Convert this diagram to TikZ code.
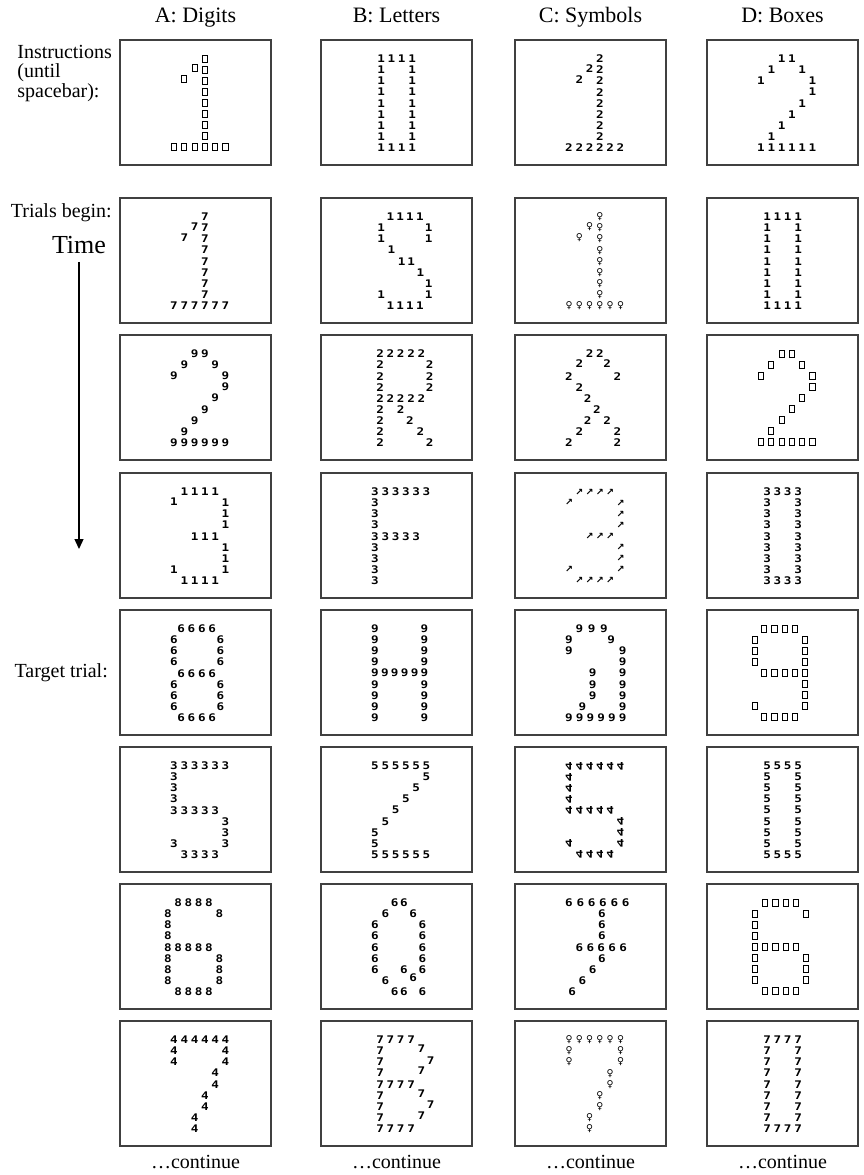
\documentclass[tikz,border=0pt]{standalone}
\usepackage{fontspec}
\usepackage{graphicx}
\setmainfont{Liberation Serif}
\newfontfamily\glyphfnt[FakeStretch=1.2]{DejaVu Sans Mono}
\newfontfamily\symfnt{DejaVu Sans}
\usetikzlibrary{arrows.meta}

\tikzset{
  panel/.style={draw=black!75, line width=1.1pt, minimum width=151pt, minimum height=125pt, inner sep=0pt, outer sep=0pt},
  gl/.style={inner sep=0pt, outer sep=0pt, font=\glyphfnt\bfseries\fontsize{10.5}{10.5}\selectfont},
  sq/.style={draw, line width=1pt, minimum width=5.2pt, minimum height=7pt, inner sep=0pt, outer sep=0pt},
  hdr/.style={font=\fontsize{22}{24}\selectfont, inner sep=0pt},
  lbl/.style={font=\fontsize{20}{19.5}\selectfont, align=left, inner sep=0pt},
  cont/.style={font=\fontsize{20}{22}\selectfont, inner sep=0pt},
  timearr/.style={line width=1.3pt, -{Triangle[length=10pt,width=9pt]}},
}

% big figures, col/row on the glyph grid
\newcommand\shpOne{3/0,2/0.85,3/1,1/1.85,3/2,3/3,3/4,3/5,3/6,3/7,0/8,1/8,2/8,3/8,4/8,5/8}
\newcommand\shpTwo{2/0,3/0,1/1,4/1,0/2,5/2,5/3,4/4,3/5,2/6,1/7,0/8,1/8,2/8,3/8,4/8,5/8}
\newcommand\shpThree{1/0,2/0,3/0,4/0,0/0.9,5/1,5/2,5/3,2/4,3/4,4/4,5/5,5/6,0/7,5/7,1/8,2/8,3/8,4/8}
\newcommand\shpFive{0/0,1/0,2/0,3/0,4/0,5/0,0/1,0/2,0/3,0/4,1/4,2/4,3/4,4/4,5/5,5/6,0/7,5/7,1/8,2/8,3/8,4/8}
\newcommand\shpSix{0.4/0,1.4/0,2.4/0,3.4/0,-0.6/1,4.4/1,-0.6/2,-0.6/3,-0.6/4,0.4/4,1.4/4,2.4/4,3.4/4,-0.6/5,4.4/5,-0.6/6,4.4/6,-0.6/7,4.4/7,0.4/8,1.4/8,2.4/8,3.4/8}
\newcommand\shpSeven{0/0,1/0,2/0,3/0,4/0,5/0,0/1,5/1,0/2,5/2,4/3,4/4,3/5,3/6,2/7,2/8}
\newcommand\shpEight{0.7/0,1.7/0,2.7/0,3.7/0,0/1,4.5/1,0/2,4.5/2,0/3,4.5/3,0.7/4,1.7/4,2.7/4,3.7/4,0/5,4.5/5,0/6,4.5/6,0/7,4.5/7,0.7/8,1.7/8,2.7/8,3.7/8}
\newcommand\shpNine{0.3/0,1.3/0,2.3/0,3.3/0,-0.6/1,4.25/1,-0.6/2,4.25/2,-0.6/3,4.25/3,0.3/4,1.3/4,2.3/4,3.3/4,4.25/4,4.25/5,4.25/6,-0.6/7,4.25/7,0.3/8,1.3/8,2.3/8,3.3/8}
\newcommand\shpZero{0.6/0,1.6/0,2.6/0,3.6/0,0.6/1,3.6/1,0.6/2,3.6/2,0.6/3,3.6/3,0.6/4,3.6/4,0.6/5,3.6/5,0.6/6,3.6/6,0.6/7,3.6/7,0.6/8,1.6/8,2.6/8,3.6/8}
\newcommand\shpS{1.5/0,2.45/0,3.4/0,4.35/0,0.6/1,5.2/1,0.6/2,5.2/2,1.6/3,2.6/4,3.5/4,4.4/5,5.2/6,0.6/7,5.2/7,1.5/8,2.45/8,3.4/8,4.35/8}
\newcommand\shpR{0.5/0,1.5/0,2.5/0,3.5/0,4.5/0,0.5/1,5.3/1,0.5/2,5.3/2,0.5/3,5.3/3,0.5/4,1.5/4,2.5/4,3.5/4,4.5/4,0.5/5,2.5/5,0.5/6,3.4/6,0.5/7,4.4/7,0.5/8,5.3/8}
\newcommand\shpF{0/0,1/0,2/0,3/0,4/0,5/0,0/1,0/2,0/3,0/4,1/4,2/4,3/4,4/4,0/5,0/6,0/7,0/8}
\newcommand\shpH{0/0,4.8/0,0/1,4.8/1,0/2,4.8/2,0/3,4.8/3,0/4,0.96/4,1.92/4,2.88/4,3.84/4,4.8/4,0/5,4.8/5,0/6,4.8/6,0/7,4.8/7,0/8,4.8/8}
\newcommand\shpZ{0/0,1/0,2/0,3/0,4/0,5/0,5/1,4/2,3/3,2/4,1/5,0/6,0/7,0/8,1/8,2/8,3/8,4/8,5/8}
\newcommand\shpQ{1.9/0,2.8/0,1/1,3.7/1,0/2,4.6/2,0/3,4.6/3,0/4,4.6/4,0/5,4.6/5,0/6,2.8/6,4.6/6,1/7,3.7/6.8,1.9/8,2.8/8,4.6/8}
\newcommand\shpB{0.5/0,1.5/0,2.5/0,3.5/0,0.5/1,4.5/0.8,0.5/2,5.4/1.85,0.5/3,4.5/2.8,0.5/4,1.5/4,2.5/4,3.5/4,0.5/5,4.5/4.85,0.5/6,5.4/5.85,0.5/7,4.5/6.85,0.5/8,1.5/8,2.5/8,3.5/8}
\newcommand\shpAnd{2/0,3/0,1/0.9,3.7/0.9,0/2,4.7/2,1/3,1.8/4,2.7/5,1.8/6,3.7/6,1/7,4.7/7,0/8,4.7/8}
\newcommand\shpA{1/0,2.2/0,3.4/0,0/1,4.1/1,0/2,5.2/2,5.2/3,2.3/4,5.2/4,2.3/5,5.2/5,2.3/6,5.2/6,1.3/7,5.2/7,0/8,1.04/8,2.08/8,3.12/8,4.16/8,5.2/8}
\newcommand\shpSevenBar{0/0,1.1/0,2.2/0,3.3/0,4.4/0,5.5/0,3.2/1,3.2/2,3.2/3,1/4,2.07/4,3.13/4,4.2/4,5.27/4,3.2/5,2.3/6,1.3/7,0.3/8}

% #1 panel, #2 style, #3 glyph, #4 positions
\newcommand\fig[4]{%
  \foreach \c/\r [count=\i] in #4 {
    \node[#2] (#1g\i) at ([xshift=54pt+(\c)*10.3pt, yshift=-19pt-(\r)*11.05pt]#1.north west) {#3};
  }}

\begin{document}
\begin{tikzpicture}[x=1pt,y=-1pt]
\useasboundingbox (0,0) rectangle (863,1175);

\foreach \col/\x in {A/195.5,B/396.5,C/590.5,D/782.5}
  \foreach \row/\y in {1/102.5,2/260.5,3/397.5,4/535.5,5/672.5,6/809.5,7/946.5,8/1083.5}
    \node[panel] (\col\row) at (\x,\y) {};

\node[hdr, anchor=base] (hA) at ([yshift=17pt]A1.north) {A: Digits};
\node[hdr, anchor=base] (hB) at ([yshift=17pt]B1.north) {B: Letters};
\node[hdr, anchor=base] (hC) at ([yshift=17pt]C1.north) {C: Symbols};
\node[hdr, anchor=base] (hD) at ([yshift=17pt]D1.north) {D: Boxes};

\node[lbl, anchor=north east] (lInstr) at (112,45) {Instructions\\(until\\spacebar):};
\node[lbl, anchor=east] (lTrials) at (112,213) {Trials begin:};
\node[font=\fontsize{26}{28}\selectfont, inner sep=0pt] (lTime) at (79,245) {Time};
\node[lbl, anchor=east] (lTarget) at (108,673) {Target trial:};
\coordinate (tEnd) at (79,549);
\draw[timearr, shorten <=8pt] (lTime.south) -- (tEnd);

\foreach \col in {A,B,C,D}
  \node[cont, anchor=base] (c\col) at ([yshift=-22pt]\col8.south) {…continue};

% A: Digits
\fig{A1}{sq}{}{\shpOne}
\fig{A2}{gl}{7}{\shpOne}
\fig{A3}{gl}{9}{\shpTwo}
\fig{A4}{gl}{1}{\shpThree}
\fig{A5}{gl}{6}{\shpEight}
\fig{A6}{gl}{3}{\shpFive}
\fig{A7}{gl}{8}{\shpSix}
\fig{A8}{gl}{4}{\shpSeven}
% B: Letters
\fig{B1}{gl}{1}{\shpZero}
\fig{B2}{gl}{1}{\shpS}
\fig{B3}{gl}{2}{\shpR}
\fig{B4}{gl}{3}{\shpF}
\fig{B5}{gl}{9}{\shpH}
\fig{B6}{gl}{5}{\shpZ}
\fig{B7}{gl}{6}{\shpQ}
\fig{B8}{gl}{7}{\shpB}
% C: Symbols
\fig{C1}{gl}{2}{\shpOne}
\fig{C2}{gl}{\symfnt\bfseries\fontsize{9.5}{9.5}\selectfont ♀}{\shpOne}
\fig{C3}{gl}{2}{\shpAnd}
\fig{C4}{gl}{\symfnt\bfseries\fontsize{9.5}{9.5}\selectfont ↗}{\shpThree}
\fig{C5}{gl}{9}{\shpA}
\fig{C6}{gl}{\scalebox{1}[-1]{4}}{\shpFive}
\fig{C7}{gl}{6}{\shpSevenBar}
\fig{C8}{gl}{\symfnt\bfseries\fontsize{9.5}{9.5}\selectfont ♀}{\shpSeven}
% D: Boxes
\fig{D1}{gl}{1}{\shpTwo}
\fig{D2}{gl}{1}{\shpZero}
\fig{D3}{sq}{}{\shpTwo}
\fig{D4}{gl}{3}{\shpZero}
\fig{D5}{sq}{}{\shpNine}
\fig{D6}{gl}{5}{\shpZero}
\fig{D7}{sq}{}{\shpSix}
\fig{D8}{gl}{7}{\shpZero}
\end{tikzpicture}
\end{document}
